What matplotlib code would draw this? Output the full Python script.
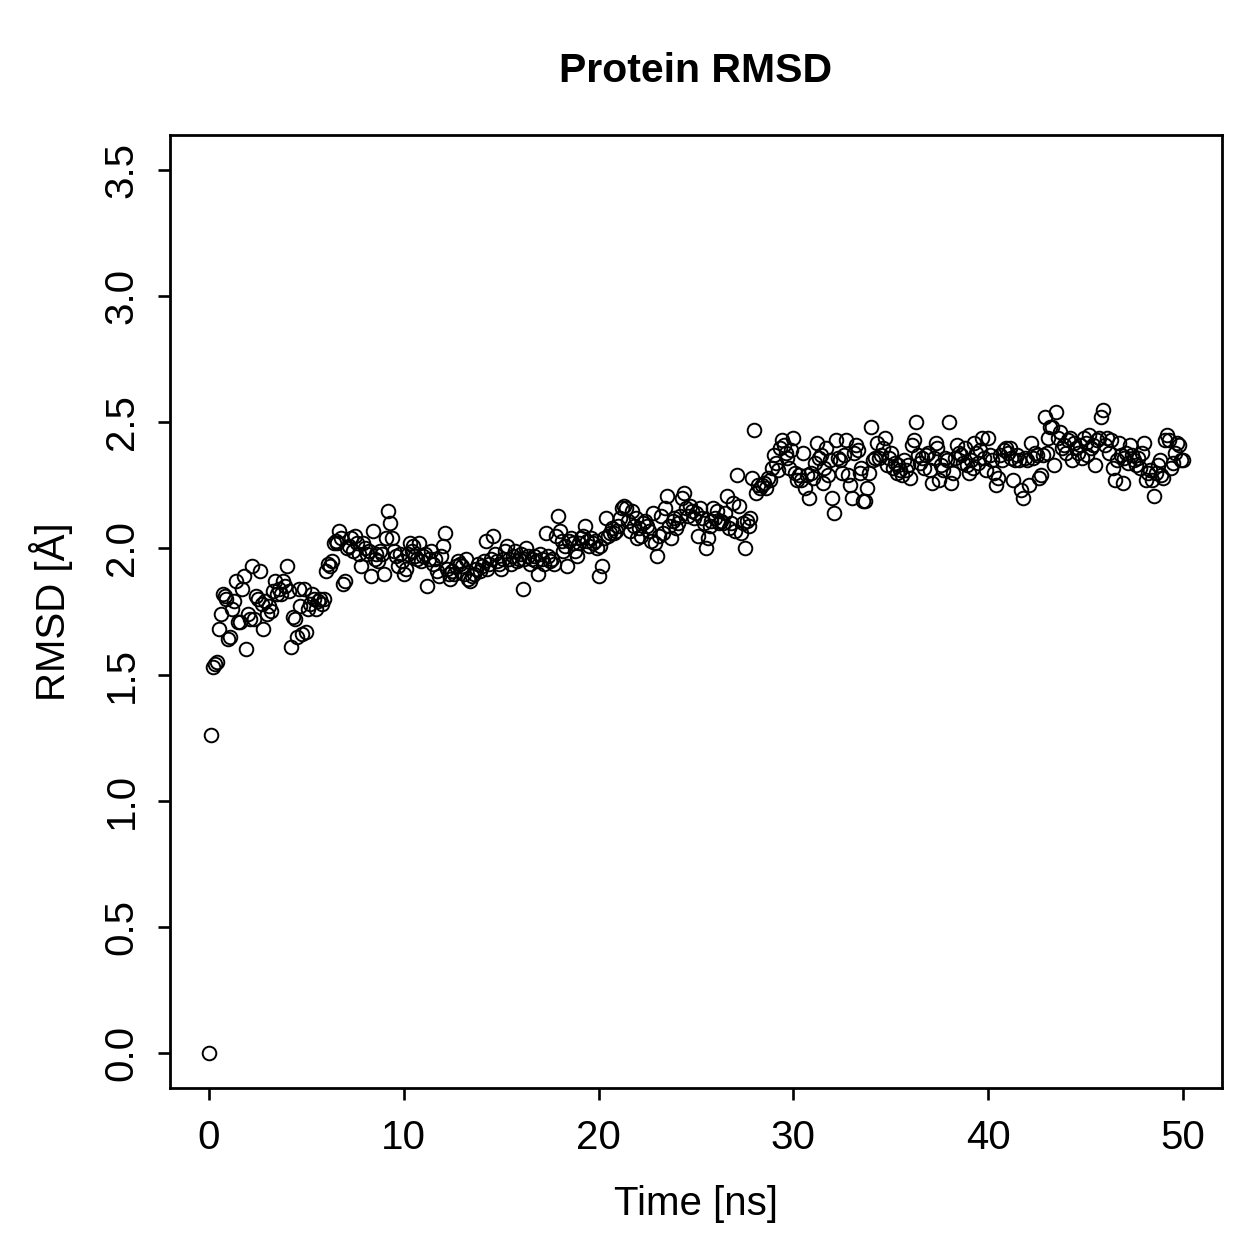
import numpy as np
import matplotlib
matplotlib.use("Agg")
import matplotlib.pyplot as plt

plt.rcParams['font.family'] = ['Liberation Sans', 'DejaVu Sans']

# RMSD values [Å], one row per nanosecond (0.1 ns steps)
rmsd_rows = [
    [0.00, 1.26, 1.53, 1.54, 1.55, 1.68, 1.74, 1.82, 1.81, 1.80],
    [1.64, 1.65, 1.76, 1.79, 1.87, 1.71, 1.71, 1.84, 1.89, 1.60],
    [1.74, 1.72, 1.93, 1.72, 1.81, 1.80, 1.91, 1.78, 1.68, 1.79],
    [1.74, 1.77, 1.75, 1.83, 1.87, 1.82, 1.84, 1.82, 1.87, 1.85],
    [1.93, 1.83, 1.61, 1.73, 1.72, 1.65, 1.84, 1.77, 1.66, 1.84],
    [1.67, 1.76, 1.78, 1.82, 1.80, 1.76, 1.79, 1.80, 1.78, 1.80],
    [1.91, 1.94, 1.93, 1.95, 2.02, 2.03, 2.02, 2.07, 2.04, 1.86],
    [1.87, 2.00, 2.01, 2.04, 1.99, 2.05, 2.02, 1.98, 1.93, 2.02],
    [2.00, 1.98, 1.99, 1.89, 2.07, 1.96, 1.98, 1.95, 1.99, 1.98],
    [1.90, 2.04, 2.15, 2.10, 2.04, 1.99, 1.97, 1.93, 1.98, 1.95],
    [1.90, 1.92, 1.98, 2.02, 1.99, 2.01, 1.97, 1.96, 2.02, 1.95],
    [1.97, 1.98, 1.85, 1.96, 1.99, 1.94, 1.96, 1.91, 1.89, 1.97],
    [2.01, 2.06, 1.92, 1.90, 1.88, 1.91, 1.90, 1.93, 1.95, 1.94],
    [1.93, 1.90, 1.96, 1.88, 1.87, 1.89, 1.90, 1.92, 1.94, 1.91],
    [1.93, 1.95, 2.03, 1.92, 1.94, 1.96, 2.05, 1.98, 1.95, 1.94],
    [1.92, 1.96, 1.99, 2.01, 1.96, 1.94, 1.97, 1.99, 1.95, 1.96],
    [1.98, 1.84, 1.96, 2.00, 1.97, 1.94, 1.96, 1.97, 1.95, 1.90],
    [1.98, 1.96, 1.94, 2.06, 1.97, 1.95, 1.96, 1.94, 2.05, 2.13],
    [2.07, 2.03, 1.99, 2.01, 1.93, 2.03, 2.04, 2.02, 1.99, 1.97],
    [2.02, 2.04, 2.05, 2.09, 2.03, 2.01, 2.04, 2.02, 2.03, 2.00],
    [1.89, 2.01, 1.93, 2.04, 2.12, 2.05, 2.06, 2.08, 2.06, 2.07],
    [2.09, 2.12, 2.16, 2.17, 2.16, 2.11, 2.07, 2.15, 2.09, 2.12],
    [2.04, 2.08, 2.05, 2.10, 2.11, 2.09, 2.07, 2.03, 2.14, 2.02],
    [1.97, 2.05, 2.13, 2.06, 2.16, 2.21, 2.09, 2.04, 2.11, 2.12],
    [2.08, 2.10, 2.13, 2.20, 2.22, 2.16, 2.13, 2.17, 2.15, 2.12],
    [2.14, 2.05, 2.16, 2.12, 2.10, 2.00, 2.04, 2.09, 2.11, 2.16],
    [2.12, 2.15, 2.10, 2.11, 2.10, 2.14, 2.21, 2.08, 2.10, 2.18],
    [2.07, 2.29, 2.17, 2.06, 2.10, 2.00, 2.11, 2.09, 2.12, 2.28],
    [2.47, 2.22, 2.25, 2.24, 2.25, 2.26, 2.24, 2.28, 2.27, 2.32],
    [2.37, 2.34, 2.31, 2.40, 2.43, 2.41, 2.38, 2.36, 2.32, 2.39],
    [2.44, 2.30, 2.27, 2.29, 2.27, 2.38, 2.24, 2.29, 2.20, 2.30],
    [2.28, 2.34, 2.42, 2.36, 2.37, 2.26, 2.32, 2.40, 2.29, 2.35],
    [2.20, 2.14, 2.43, 2.36, 2.35, 2.30, 2.37, 2.43, 2.29, 2.25],
    [2.20, 2.38, 2.41, 2.39, 2.30, 2.32, 2.19, 2.19, 2.24, 2.30],
    [2.48, 2.35, 2.36, 2.42, 2.36, 2.37, 2.40, 2.44, 2.33, 2.36],
    [2.38, 2.32, 2.34, 2.30, 2.33, 2.31, 2.29, 2.35, 2.31, 2.33],
    [2.28, 2.41, 2.43, 2.50, 2.37, 2.34, 2.36, 2.32, 2.37, 2.38],
    [2.31, 2.26, 2.36, 2.42, 2.40, 2.27, 2.33, 2.31, 2.36, 2.35],
    [2.50, 2.26, 2.30, 2.36, 2.41, 2.38, 2.37, 2.34, 2.40, 2.33],
    [2.30, 2.35, 2.32, 2.42, 2.38, 2.34, 2.39, 2.44, 2.36, 2.31],
    [2.44, 2.37, 2.35, 2.30, 2.25, 2.28, 2.37, 2.35, 2.39, 2.40],
    [2.38, 2.40, 2.36, 2.27, 2.35, 2.37, 2.35, 2.23, 2.20, 2.36],
    [2.35, 2.25, 2.42, 2.36, 2.38, 2.37, 2.28, 2.29, 2.37, 2.52],
    [2.38, 2.44, 2.48, 2.48, 2.33, 2.54, 2.44, 2.46, 2.40, 2.41],
    [2.38, 2.43, 2.44, 2.35, 2.42, 2.40, 2.38, 2.41, 2.36, 2.44],
    [2.42, 2.37, 2.45, 2.40, 2.41, 2.33, 2.43, 2.44, 2.52, 2.55],
    [2.41, 2.44, 2.38, 2.43, 2.32, 2.27, 2.35, 2.42, 2.37, 2.26],
    [2.36, 2.38, 2.34, 2.41, 2.37, 2.35, 2.33, 2.36, 2.32, 2.38],
    [2.42, 2.27, 2.30, 2.31, 2.27, 2.21, 2.30, 2.33, 2.35, 2.29],
    [2.28, 2.43, 2.45, 2.43, 2.32, 2.34, 2.38, 2.42, 2.41, 2.35],
    [2.35],
]
rmsd = np.concatenate([np.array(r) for r in rmsd_rows])
time_ns = np.arange(len(rmsd)) * 0.1

x_ticks = [0, 10, 20, 30, 40, 50]
y_ticks = [0.0, 0.5, 1.0, 1.5, 2.0, 2.5, 3.0, 3.5]

fig = plt.figure(figsize=(12.59, 12.59), dpi=100)
ax = fig.add_axes([0.135, 0.1358, 0.8355, 0.757])

ax.plot(time_ns, rmsd, linestyle='none', marker='o', markersize=9.8,
        markerfacecolor='none', markeredgecolor='black', markeredgewidth=1.4)

# R-style 4% padding around data range
ax.set_xlim(-2, 52)
ax.set_ylim(-0.14, 3.64)
ax.set_xticks(x_ticks)
ax.set_xticklabels([str(v) for v in x_ticks])
ax.set_yticks(y_ticks)
ax.set_yticklabels([f"{v:.1f}" for v in y_ticks], rotation=90, va='center')

for s in ax.spines.values():
    s.set_linewidth(2.0)
ax.tick_params(direction='out', length=8.6, width=1.9, labelsize=29)
ax.tick_params(axis='x', pad=14)
ax.tick_params(axis='y', pad=12.5)

ax.set_title('Protein RMSD', fontsize=29.5, fontweight='bold', pad=38)
ax.set_xlabel('Time [ns]', fontsize=29, labelpad=20)
ax.set_ylabel('RMSD [Å]', fontsize=29, labelpad=21)

fig.savefig('out.png', dpi=100)
